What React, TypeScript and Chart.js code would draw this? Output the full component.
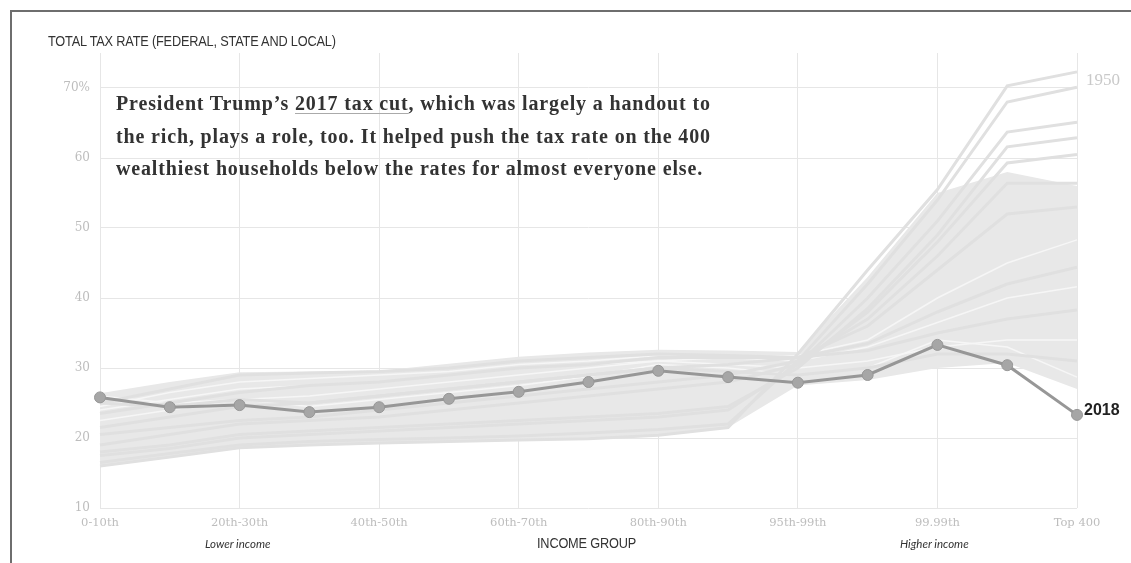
import React, { useEffect, useRef } from "react";
import { Chart, registerables } from "chart.js";

Chart.register(...registerables);

const categories = [
  "0-10th", "10th-20th", "20th-30th", "30th-40th", "40th-50th", "50th-60th",
  "60th-70th", "70th-80th", "80th-90th", "90th-95th", "95th-99th",
  "99th-99.9th", "99.99th", "Top 0.01%", "Top 400",
];

const yTicks = [10, 20, 30, 40, 50, 60, 70];

const rate2018 = [25.8, 24.4, 24.7, 23.7, 24.4, 25.6, 26.6, 28.0, 29.6, 28.7, 27.9, 29.0, 33.3, 30.4, 23.3];

const bandLow = [16.0, 17.3, 18.6, 19.0, 19.3, 19.5, 19.7, 19.9, 20.4, 21.5, 27.5, 28.3, 30.0, 30.7, 27.0];
const bandHigh = [26.4, 28.0, 29.4, 29.5, 29.6, 30.6, 31.6, 32.2, 32.6, 32.5, 32.3, 43.0, 55.0, 58.0, 56.0];

const yr1950 = [16.0, 17.3, 18.6, 19.0, 19.3, 19.5, 19.7, 19.9, 20.4, 21.5, 32.0, 44.0, 55.5, 70.3, 72.3];
const yr1955 = [16.5, 17.8, 19.0, 19.5, 19.8, 20.0, 20.3, 20.7, 21.2, 22.0, 31.0, 42.0, 54.0, 68.0, 70.1];
const yr1960 = [17.5, 18.5, 20.0, 20.5, 21.0, 21.5, 22.0, 22.5, 23.0, 24.0, 30.5, 40.0, 51.0, 63.7, 65.1];
const yr1965 = [18.0, 19.0, 20.5, 21.0, 21.5, 22.0, 22.5, 23.0, 23.5, 24.5, 30.0, 38.5, 49.0, 61.6, 62.9];
const yr1970 = [19.0, 20.5, 22.0, 22.5, 23.0, 24.0, 25.0, 26.0, 27.0, 28.0, 30.5, 38.0, 48.0, 59.3, 60.5];
const yr1975 = [20.5, 21.5, 22.5, 23.0, 24.0, 25.0, 26.0, 27.0, 28.0, 29.0, 31.0, 37.0, 46.0, 56.4, 56.4];
const yr1980 = [21.5, 23.0, 24.5, 25.0, 26.0, 27.0, 28.0, 29.0, 30.0, 30.5, 31.5, 36.0, 44.0, 52.0, 53.0];
const yr1985 = [22.5, 24.0, 25.5, 26.0, 27.0, 28.0, 29.0, 30.0, 31.0, 31.5, 31.8, 34.0, 40.0, 45.0, 48.3];
const yr1990 = [23.5, 25.0, 26.5, 27.5, 28.0, 29.0, 30.0, 30.5, 31.5, 31.5, 31.5, 33.5, 38.0, 42.0, 44.4];
const yr1995 = [24.5, 26.5, 28.0, 28.5, 29.0, 29.5, 30.5, 31.0, 31.8, 31.5, 31.0, 33.0, 36.5, 40.0, 41.6];
const yr2000 = [25.0, 27.0, 29.0, 29.3, 29.5, 30.0, 31.0, 31.5, 32.0, 31.8, 31.5, 32.5, 35.0, 37.0, 38.3];
const yr2005 = [24.0, 25.5, 27.0, 27.5, 28.0, 29.0, 30.0, 30.5, 31.0, 30.5, 30.0, 31.0, 33.0, 34.0, 34.0];
const yr2010 = [25.0, 24.5, 25.5, 25.0, 26.0, 27.0, 28.0, 29.0, 30.0, 29.5, 29.0, 30.0, 32.0, 32.0, 31.0];
const yr2016 = [26.0, 25.0, 25.5, 24.5, 25.5, 26.5, 27.5, 28.8, 30.5, 30.0, 29.0, 30.0, 34.0, 33.0, 28.7];

const grayLines = [yr1950, yr1955, yr1960, yr1965, yr1970, yr1975, yr1980, yr1990, yr2000, yr2010];
const streakLines = [yr1985, yr1995, yr2005, yr2016];

const endLabels = {
  id: "endLabels",
  afterDatasetsDraw(chart: any) {
    const ctx = chart.ctx;
    const x = chart.scales.x.getPixelForValue(categories.length - 1);
    const yTop = chart.scales.y.getPixelForValue(yr1950[yr1950.length - 1]);
    const yMain = chart.scales.y.getPixelForValue(rate2018[rate2018.length - 1]);
    ctx.save();
    ctx.textAlign = "left";
    ctx.textBaseline = "middle";
    ctx.fillStyle = "#c9c9c9";
    ctx.font = "17px 'Liberation Serif', serif";
    ctx.fillText("1950", x + 9, yTop + 9);
    ctx.fillStyle = "#222";
    ctx.font = "bold 16px 'Liberation Sans', sans-serif";
    ctx.fillText("2018", x + 7, yMain - 4);
    ctx.restore();
  },
};

export default function App() {
  const ref = useRef<HTMLCanvasElement>(null);

  useEffect(() => {
    if (!ref.current) return;
    const datasets: any[] = [
      {
        label: "2018",
        data: rate2018,
        borderColor: "#979797",
        borderWidth: 3,
        pointRadius: 5.5,
        pointBackgroundColor: "#a6a6a6",
        pointBorderColor: "#979797",
        pointBorderWidth: 1,
        fill: false,
        order: 0,
      },
    ];
    grayLines.forEach((d) =>
      datasets.push({
        data: d,
        borderColor: "#e0e0e0",
        borderWidth: 3,
        pointRadius: 0,
        fill: false,
        order: 1,
      })
    );
    streakLines.forEach((d) =>
      datasets.push({
        data: d,
        borderColor: "#f6f6f6",
        borderWidth: 1.5,
        pointRadius: 0,
        fill: false,
        order: 1,
      })
    );
    datasets.push({
      data: bandLow,
      borderWidth: 0,
      borderColor: "rgba(0,0,0,0)",
      pointRadius: 0,
      fill: false,
      order: 2,
    });
    datasets.push({
      data: bandHigh,
      borderWidth: 0,
      borderColor: "rgba(0,0,0,0)",
      backgroundColor: "#e8e8e8",
      pointRadius: 0,
      fill: "-1",
      order: 2,
    });

    const chart = new Chart(ref.current, {
      type: "line",
      data: { labels: categories, datasets },
      plugins: [endLabels],
      options: {
        animation: false,
        responsive: false,
        devicePixelRatio: 1,
        layout: { padding: { left: 0, right: 54, top: 53, bottom: 0 } },
        elements: { line: { tension: 0 } },
        plugins: { legend: { display: false }, tooltip: { enabled: false } },
        scales: {
          x: {
            type: "category",
            offset: false,
            afterFit: (s: any) => { s.height = 55; },
            border: { display: false },
            grid: {
              drawTicks: false,
              color: (c: any) => (c.index % 2 === 0 ? "#e6e6e6" : "rgba(0,0,0,0)"),
            },
            ticks: {
              autoSkip: false,
              maxRotation: 0,
              padding: 8,
              color: "#bdbdbd",
              font: { family: "'DejaVu Serif', serif", size: 11.5 },
              callback: (v: any, i: number) => (i % 2 === 0 ? categories[i] : ""),
            },
          },
          y: {
            min: 10,
            max: 75,
            afterFit: (s: any) => { s.width = 100; },
            border: { display: false },
            grid: { drawTicks: false, color: "#e6e6e6" },
            afterBuildTicks: (s: any) => { s.ticks = yTicks.map((v) => ({ value: v })); },
            ticks: {
              padding: 10,
              color: "#bdbdbd",
              font: { family: "'DejaVu Serif', serif", size: 12 },
              callback: (v: any) => (v === 70 ? "70%" : String(v)),
            },
          },
        },
      },
    });
    return () => chart.destroy();
  }, []);

  const abs: React.CSSProperties = { position: "absolute", whiteSpace: "nowrap" };
  const narrow: React.CSSProperties = {
    fontFamily: "'Liberation Sans', Arial, sans-serif",
    fontSize: 14,
    color: "#333",
    lineHeight: "18px",
    transform: "scaleX(0.91)",
    transformOrigin: "left center",
    letterSpacing: "-0.2px",
  };

  return (
    <div style={{ position: "fixed", left: 0, top: 0, width: 1131, height: 563, background: "#fff", overflow: "hidden" }}>
      <canvas ref={ref} width={1131} height={563} style={{ position: "absolute", left: 0, top: 0, width: 1131, height: 563, display: "block" }} />
      <div style={{ position: "absolute", left: 10, top: 10, width: 1131, height: 563, borderLeft: "2px solid #6e6e6e", borderTop: "2px solid #6e6e6e", pointerEvents: "none" }} />
      <div style={{ ...abs, ...narrow, left: 48, top: 32 }}>
        TOTAL TAX RATE (FEDERAL, STATE AND LOCAL)
      </div>
      <div style={{ ...abs, left: 116, top: 87, fontFamily: "'Liberation Serif', serif", fontWeight: "bold", fontSize: 20, letterSpacing: "0.85px", lineHeight: "32.5px", color: "#333" }}>
        President Trump’s <span style={{ textDecoration: "underline", textDecorationColor: "#aaa", textDecorationThickness: "1px", textUnderlineOffset: "3px" }}>2017 tax cut</span>, which was largely a handout to<br />
        the rich, plays a role, too. It helped push the tax rate on the 400<br />
        wealthiest households below the rates for almost everyone else.
      </div>
      <div style={{ ...abs, ...narrow, left: 537, top: 534 }}>
        INCOME GROUP
      </div>
      <div style={{ ...abs, left: 205, top: 536, fontFamily: "Lato, sans-serif", fontStyle: "italic", fontSize: 11.5, color: "#333", lineHeight: "15px" }}>
        Lower income
      </div>
      <div style={{ ...abs, left: 900, top: 536, fontFamily: "Lato, sans-serif", fontStyle: "italic", fontSize: 11.5, color: "#333", lineHeight: "15px" }}>
        Higher income
      </div>
    </div>
  );
}
